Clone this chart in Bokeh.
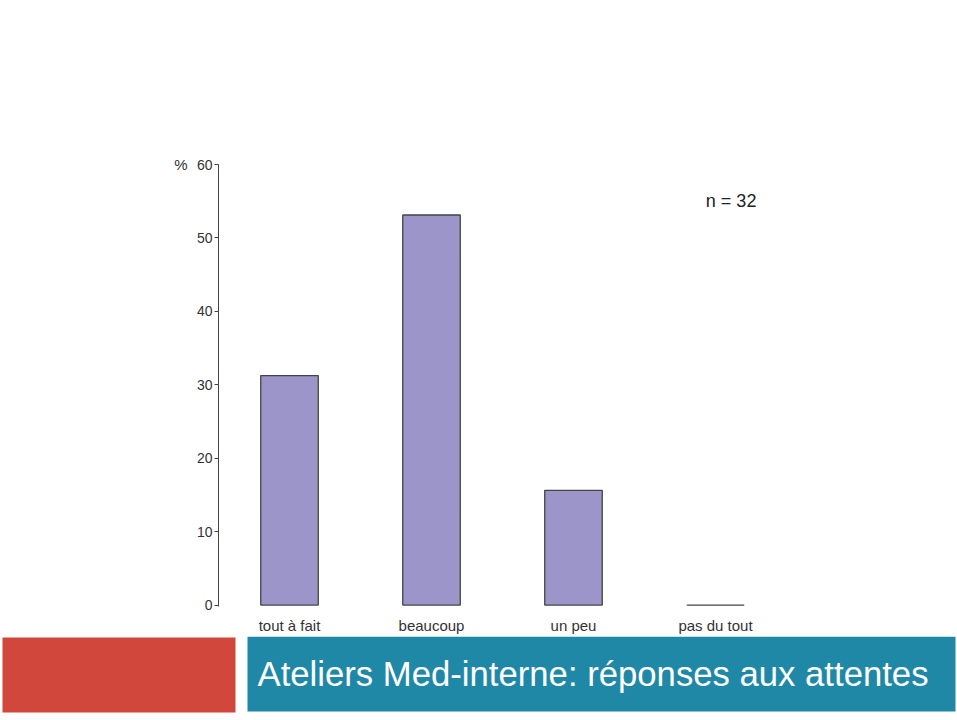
from bokeh.plotting import figure
from bokeh.models import Range1d, Label, FixedTicker, ColumnDataSource, LinearAxis
from bokeh.layouts import column
from bokeh.embed import file_html
from bokeh.resources import INLINE

categories = ["tout à fait", "beaucoup", "un peu", "pas du tout"]
percent = [31.25, 53.125, 15.625, 0.0]
y_ticks = [0, 10, 20, 30, 40, 50, 60]
y_unit = "%"
n_label = "n = 32"
title_text = "Ateliers Med-interne: réponses aux attentes"

FONT = "Liberation Sans"
TXT = "#333333"

p = figure(x_range=categories, y_range=Range1d(-0.2, 60),
           width=957, height=636, output_backend="svg", toolbar_location=None,
           min_border_left=218, min_border_right=171, min_border_top=164,
           min_border_bottom=28)
p.frame_align = False
p.outline_line_color = None
p.grid.grid_line_color = None
p.background_fill_color = "white"
p.border_fill_color = "white"

src = ColumnDataSource(dict(cat=categories, val=percent))
p.vbar(x="cat", top="val", bottom=0, width=0.405, source=src,
       fill_color="#9b95c9", line_color="#444444", line_width=1.3)

ya = p.yaxis[0]
ya.ticker = FixedTicker(ticks=y_ticks)
ya.minor_tick_line_color = None
ya.major_tick_in = 0
ya.major_tick_out = 4
ya.axis_line_color = "#444444"
ya.major_tick_line_color = "#444444"
ya.major_label_text_font = FONT
ya.major_label_text_font_size = "14px"
ya.major_label_text_color = TXT
ya.major_label_standoff = 2

# unit label at the top of the y axis
ua = LinearAxis(ticker=FixedTicker(ticks=[y_ticks[-1]]),
                major_label_overrides={y_ticks[-1]: y_unit})
ua.axis_line_color = None
ua.major_tick_line_color = None
ua.minor_tick_line_color = None
ua.major_tick_in = 0
ua.major_tick_out = 0
ua.major_label_text_font = FONT
ua.major_label_text_font_size = "15px"
ua.major_label_text_color = TXT
ua.major_label_standoff = 6
p.add_layout(ua, "left")

xa = p.xaxis[0]
xa.axis_line_color = None
xa.major_tick_line_color = None
xa.minor_tick_line_color = None
xa.major_label_text_font = FONT
xa.major_label_text_font_size = "15px"
xa.major_label_text_color = TXT
xa.major_label_standoff = 4

p.add_layout(Label(x=3.61, y=55.0, text=n_label, text_font=FONT, text_font_size="18px",
                   text_color="#222222", text_align="center", text_baseline="middle"))

# banner
b = figure(x_range=Range1d(0, 957), y_range=Range1d(0, 84), width=957, height=84,
           output_backend="svg", toolbar_location=None,
           min_border=0, min_border_left=0, min_border_right=0,
           min_border_top=0, min_border_bottom=0)
b.frame_align = False
b.axis.visible = False
b.grid.grid_line_color = None
b.outline_line_color = None
b.quad(left=[2], right=[235], bottom=[8], top=[83], fill_color="#d2473b", line_color=None)
b.quad(left=[247], right=[955], bottom=[9], top=[84], fill_color="#1f88a6", line_color=None)
b.add_layout(Label(x=257, y=47, text=title_text, text_font=FONT, text_font_size="34.7px",
                   text_color="white", text_align="left", text_baseline="middle"))

layout = column(p, b, spacing=0)
open("out.html", "w").write(file_html(layout, INLINE))
